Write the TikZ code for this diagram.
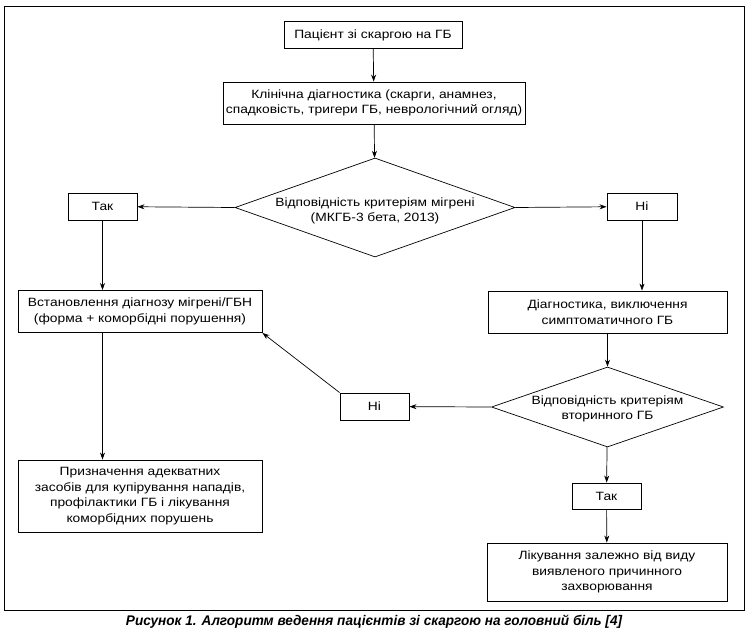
\documentclass[tikz,border=0pt]{standalone}
\usepackage{fontspec}
\setmainfont{Liberation Sans}[FakeStretch=1.15]
\newfontfamily\capfont{Liberation Sans}
\usetikzlibrary{shapes.geometric,arrows.meta}
\tikzset{
  box/.style={draw, line width=0.9pt, inner sep=0pt, align=center, font=\fontsize{12}{15.5}\selectfont},
  dia/.style={draw, diamond, line width=0.7pt, inner sep=0pt},
  txt/.style={inner sep=0pt, align=center, font=\fontsize{12}{15.5}\selectfont},
  arr/.style={line width=0.7pt, -{Stealth[length=7pt,width=5pt]}},
  ln/.style={line width=0.7pt}
}
\begin{document}
\begin{tikzpicture}[x=1pt,y=-1pt]
\useasboundingbox (0,0) rectangle (749,637);
\draw[line width=0.9pt] (4,6) rectangle (744,610);
\node[box, minimum width=178, minimum height=27] (p) at (373,35) {Пацієнт зі скаргою на ГБ};
\node[box, minimum width=302, minimum height=42] (k) at (374,103) {Клінічна діагностика (скарги, анамнез,\\спадковість, тригери ГБ, неврологічний огляд)};
\node[dia, minimum width=280, minimum height=99] (d1) at (375,207.5) {};
\node[txt] (d1t) at (375,211) {Відповідність критеріям мігрені\\(МКГБ-3 бета, 2013)};
\node[box, minimum width=69, minimum height=27] (t1) at (102.5,206.5) {Так};
\node[box, minimum width=70, minimum height=27] (n1) at (642,206.5) {Ні};
\node[box, minimum width=244, minimum height=42] (v) at (140,311.5) {Встановлення діагнозу мігрені/ГБН\\(форма + коморбідні порушення)};
\node[box, minimum width=239, minimum height=42] (dg) at (607.5,312) {Діагностика, виключення\\симптоматичного ГБ};
\node[dia, minimum width=232, minimum height=80] (d2) at (607.5,407) {};
\node[txt] (d2t) at (607.5,409) {Відповідність критеріям\\вторинного ГБ};
\node[box, minimum width=69, minimum height=27] (n2) at (374.5,406.5) {Ні};
\node[box, minimum width=244, minimum height=72] (pr) at (140,496) {Призначення адекватних\\засобів для купірування нападів,\\профілактики ГБ і лікування\\коморбідних порушень};
\node[box, minimum width=69, minimum height=26] (t2) at (606.5,496) {Так};
\node[box, minimum width=240, minimum height=58] (l) at (607,572) {Лікування залежно від виду\\виявленого причинного\\захворювання};
\node[inner sep=0pt] (cap) at (374,622) {\scalebox{0.97}[1]{\capfont\fontsize{14}{16}\selectfont\bfseries\itshape Рисунок 1. Алгоритм ведення пацієнтів зі скаргою на головний біль [4]}};
\draw[arr] (p) -- (k);
\draw[arr] (k) -- (d1);
\draw[arr] (d1.west) -- (t1);
\draw[arr] (d1.east) -- (n1);
\draw[arr] (t1) -- (t1 |- v.north);
\draw[arr] (n1) -- (n1 |- dg.north);
\draw[arr] (dg) -- (d2);
\draw[arr] (d2.west) -- (n2);
\draw[arr] (n2.north west) -- (v.south east);
\draw[arr] (t1 |- v.south) -- (t1 |- pr.north);
\draw[arr] (d2) -- (t2);
\draw[arr] (t2) -- (l);
\end{tikzpicture}
\end{document}
